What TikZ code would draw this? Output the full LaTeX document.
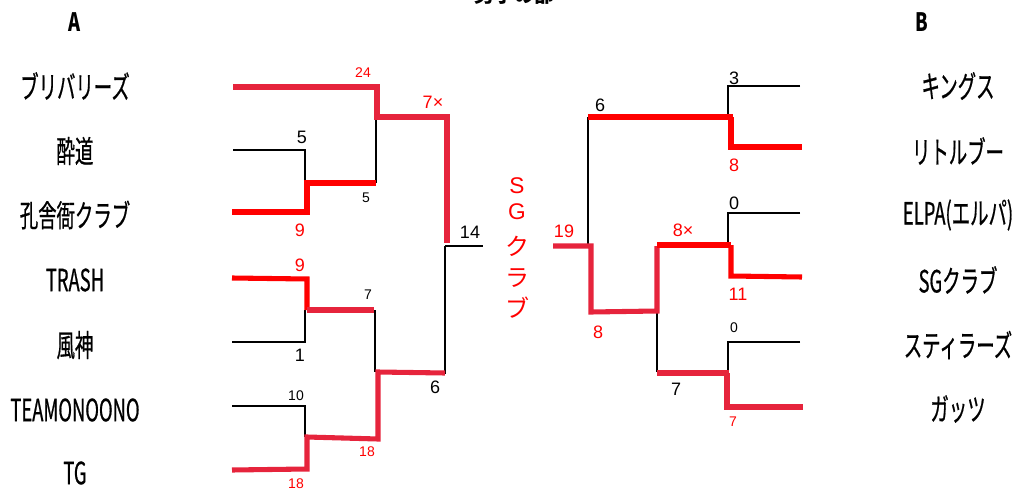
\documentclass[tikz,border=0pt]{standalone}
\usepackage{fontspec}
\setmainfont{Liberation Sans}
\newfontfamily\labfont[FakeStretch=0.6,FakeBold=0.6]{Noto Sans CJK JP}
\newfontfamily\hdrfont[FakeStretch=0.72]{Noto Sans CJK JP}
\newfontfamily\jpfont{Noto Sans CJK JP}
\definecolor{crim}{RGB}{230,36,60}
\definecolor{pred}{RGB}{255,0,0}
\begin{document}
\begin{tikzpicture}[x=0.75pt,y=-0.75pt,
  thin/.style={black,line width=1.5pt},
  redA/.style={pred,line width=3.8pt},
  redB/.style={crim,line width=3.8pt},
  lab/.style={inner sep=0pt,font=\labfont\fontsize{23}{25}\selectfont},
  hdr/.style={inner sep=0pt,font=\hdrfont\bfseries\fontsize{19}{21}\selectfont},
  num/.style={inner sep=0pt,font=\fontsize{13.5}{15}\selectfont},
  snum/.style={inner sep=0pt,font=\fontsize{10.5}{12}\selectfont},
  rnum/.style={num,text=pred},
  rsnum/.style={snum,text=pred},
  sg/.style={inner sep=0pt,text=pred,font=\jpfont\fontsize{18}{20}\selectfont}]
\useasboundingbox (0,0) rectangle (1027,492);
% title (cut off by the page top)
\node[anchor=base,inner sep=0pt,font=\jpfont\bfseries\fontsize{15}{16}\selectfont] (title) at (514,3) {男子の部};
\node[hdr] (hA) at (75,22) {A};
\node[hdr] (hB) at (922,22) {B};
% left teams
\node[lab] (L1) at (75,86) {ブリバリーズ};
\node[lab] (L2) at (75,151) {酔道};
\node[lab] (L3) at (75,215) {孔舎衙クラブ};
\node[lab] (L4) at (75,280) {TRASH};
\node[lab] (L5) at (75,345) {風神};
\node[lab] (L6) at (75,410) {TEAMONOONO};
\node[lab] (L7) at (75,473) {TG};
% right teams
\node[lab] (R1) at (958,86) {キングス};
\node[lab] (R2) at (958,151) {リトルブー};
\node[lab] (R3) at (958,215) {ELPA(エルパ)};
\node[lab] (R4) at (958,280) {SGクラブ};
\node[lab] (R5) at (958,345) {スティラーズ};
\node[lab] (R6) at (958,409) {ガッツ};
% SG club vertical
\node[sg,font=\fontsize{17}{19}\selectfont] (sgS) at (517,186) {S};
\node[sg,font=\fontsize{17}{19}\selectfont] (sgG) at (517,212) {G};
\node[sg] (sgKu) at (517,246) {ク};
\node[sg] (sgRa) at (517,278) {ラ};
\node[sg] (sgBu) at (517,308) {ブ};
% ---- coordinates, left bracket
\coordinate (a1) at (233,87);  \coordinate (a1j) at (377,87);
\coordinate (m1) at (377,117); \coordinate (m1r) at (447,117);
\coordinate (f1) at (447,243);
\coordinate (a2) at (233,150); \coordinate (a2j) at (305,150);
\coordinate (a3) at (232,212); \coordinate (a3j) at (307,212);
\coordinate (q1) at (307,183); \coordinate (q1r) at (376,183);
\coordinate (q1b) at (305,183); \coordinate (m1b) at (376,117);
\coordinate (fc) at (445,246); \coordinate (fce) at (483,246);
\coordinate (a4) at (232,278); \coordinate (a4j) at (307,279);
\coordinate (q2) at (307,310); \coordinate (q2r) at (374,310);
\coordinate (q2b) at (305,310); \coordinate (a5j) at (305,342);
\coordinate (a5) at (232,342);
\coordinate (m2t) at (375,310); \coordinate (m2b) at (375,372);
\coordinate (a6) at (232,406); \coordinate (a6j) at (305,406);
\coordinate (q3b) at (305,437);
\coordinate (a7) at (232,470); \coordinate (a7j) at (307,469);
\coordinate (q3) at (307,437); \coordinate (q3r) at (378,439);
\coordinate (m2) at (378,372); \coordinate (m2r) at (445,373);
\coordinate (fcb) at (445,374);
% left lines
\draw[thin] (a2) -- (a2j) -- (q1b);
\draw[thin] (m1b) -- (q1r);
\draw[thin] (q2b) -- (a5j) -- (a5);
\draw[thin] (m2t) -- (m2b);
\draw[thin] (a6) -- (a6j) -- (q3b);
\draw[thin] (fc) -- (fcb);
\draw[thin] (fc) -- (fce);
\draw[redB] (a1) -- (a1j) -- (m1) -- (m1r) -- (f1);
\draw[redA] (a3) -- (a3j) -- (q1) -- (q1r);
\draw[redA] (a4) -- (a4j) -- (q2);
\draw[redB] (q2) -- (q2r);
\draw[redB] (a7) -- (a7j) -- (q3) -- (q3r) -- (m2) -- (m2r);
% ---- coordinates, right bracket
\coordinate (b1) at (800,86);  \coordinate (b1j) at (728,86);
\coordinate (n1b) at (728,117);
\coordinate (n1) at (588,117); \coordinate (n1r) at (733,117);
\coordinate (n1j) at (731,117); \coordinate (b2j) at (731,147);
\coordinate (b2) at (802,147);
\coordinate (gct) at (588,117); \coordinate (gc) at (588,246);
\coordinate (g0) at (553,246); \coordinate (g1) at (591,246);
\coordinate (g2) at (591,312); \coordinate (g3) at (657,311);
\coordinate (g4) at (657,246);
\coordinate (p1) at (657,245); \coordinate (p1r) at (731,245);
\coordinate (b4j) at (731,276); \coordinate (b4) at (802,277);
\coordinate (b3) at (800,213); \coordinate (b3j) at (728,213);
\coordinate (p1b) at (728,246);
\coordinate (h1) at (657,311); \coordinate (h2) at (657,372);
\coordinate (p3) at (657,373); \coordinate (p3r) at (729,373);
\coordinate (p3j) at (727,373); \coordinate (b6j) at (727,407);
\coordinate (b6) at (803,407);
\coordinate (b5) at (800,342); \coordinate (b5j) at (728,342);
\coordinate (p3b) at (728,374);
% right lines
\draw[thin] (b1) -- (b1j) -- (n1b);
\draw[thin] (gct) -- (gc);
\draw[thin] (b3) -- (b3j) -- (p1b);
\draw[thin] (h1) -- (h2);
\draw[thin] (b5) -- (b5j) -- (p3b);
\draw[redA] (n1) -- (n1r);
\draw[redA] (n1j) -- (b2j) -- (b2);
\draw[redB] (g0) -- (g1) -- (g2) -- (g3) -- (g4);
\draw[redA] (p1) -- (p1r);
\draw[redA] (p1r) -- (b4j) -- (b4);
\draw[redB] (p3) -- (p3r);
\draw[redB] (p3j) -- (b6j) -- (b6);
% ---- scores, left
\node[rsnum] (s24) at (363,73) {24};
\node[rnum] (s7x) at (433,102) {7×};
\node[num] (s5a) at (302,137) {5};
\node[snum] (s5b) at (366,198) {5};
\node[rnum] (s9a) at (300,230) {9};
\node[num] (s14) at (470,232) {14};
\node[rnum] (s9b) at (300,265) {9};
\node[snum] (s7a) at (368,295) {7};
\node[num] (s1) at (300,355) {1};
\node[num] (s6a) at (435,387) {6};
\node[snum] (s10) at (296,396) {10};
\node[rsnum] (s18a) at (367,452) {18};
\node[rsnum] (s18b) at (296,484) {18};
% ---- scores, right
\node[num] (s3) at (734,78) {3};
\node[num] (s6b) at (600,105) {6};
\node[rnum] (s8a) at (734,165) {8};
\node[num] (s0a) at (734,203) {0};
\node[rnum] (s19) at (564,231) {19};
\node[rnum] (s8x) at (683,230) {8×};
\node[rnum] (s11) at (738,294) {11};
\node[rnum] (s8b) at (598,332) {8};
\node[snum] (s0b) at (734,328) {0};
\node[num] (s7b) at (676,389) {7};
\node[rsnum] (s7c) at (733,422) {7};
\end{tikzpicture}
\end{document}
